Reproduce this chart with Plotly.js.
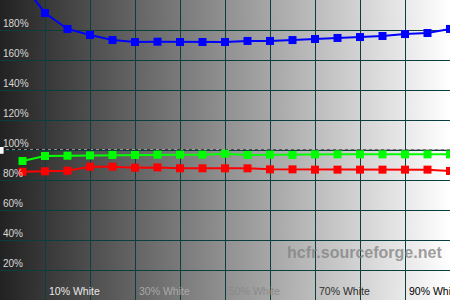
<!DOCTYPE html>
<html>
<head>
<meta charset="utf-8">
<script src="https://cdn.plot.ly/plotly-3.0.1.min.js"></script>
<style>html,body{margin:0;padding:0;background:#fff;}#chart{width:450px;height:300px;}</style>
</head>
<body>
<div id="chart"></div>
<script>
// Data (x in % white, y in %)
const levels = [5,10,15,20,25,30,35,40,45,50,55,60,65,70,75,80,85,90,95,100];
const blueVals  = [211,191.3,180.7,176.7,173.3,172,172.2,172,172,172,172.7,172.7,173.3,174,174.7,175.3,176,177.3,178,180.7];
const greenVals = [92.7,96,96.2,96.4,96.7,96.7,96.9,96.9,96.9,97.5,96.7,96.9,96.7,97.1,97.1,97.1,97.1,97.1,97.1,97.1];
const redVals   = [85.5,85.8,86.2,88.9,88.9,88.2,88.4,87.8,87.8,87.8,87.8,87.1,87.1,86.9,86.9,86.9,86.9,86.9,86.9,86];
const xTickVals = [10,20,30,40,50,60,70,80,90];
const xLabelVals = [10,30,50,70,90];
const xLabelText = ['10% White','30% White','50% White','70% White','90% White'];
const xLabelColors = ['#e8e8e8','#a8a8a8','#8a8a8a','#2e2e2e','#000000'];
const yTickVals = [20,40,60,80,100,120,140,160,180];
const yTickText = ['20%','40%','60%','80%','100%','120%','140%','160%','180%'];

// gradient background image
const cv = document.createElement('canvas');
cv.width = 450; cv.height = 10;
const ctx = cv.getContext('2d');
const g = ctx.createLinearGradient(0,0,450,0);
g.addColorStop(0,'#222222');
g.addColorStop(1,'#ffffff');
ctx.fillStyle = g; ctx.fillRect(0,0,450,10);
const bgUrl = cv.toDataURL('image/png');

function series(y, color){
  return {x: levels, y: y, type:'scatter', mode:'lines+markers',
    line:{color:color, width:2}, marker:{color:color, symbol:'square', size:8},
    hoverinfo:'skip', showlegend:false, cliponaxis:true};
}

const data = [series(redVals,'#ff0000'), series(greenVals,'#00ff00'), series(blueVals,'#0000ff')];

const annotations = xLabelVals.map((v,i)=>({
  text:xLabelText[i], xref:'x', yref:'paper', x:v+0.5, y:0.005, xanchor:'left', yanchor:'bottom',
  showarrow:false, font:{size:10.5, color:xLabelColors[i], family:'Liberation Sans, Arial, sans-serif'}
}));
annotations.push({text:'<b>hcfr.sourceforge.net</b>', xref:'paper', yref:'paper', x:285/450, y:(300-253)/300,
  xanchor:'left', yanchor:'middle',
  showarrow:false, font:{size:16, color:'rgba(128,128,128,0.75)', family:'Liberation Sans, Arial, sans-serif'}});

const layout = {
  width:450, height:300,
  margin:{l:0,r:0,t:0,b:0,pad:0},
  paper_bgcolor:'#ffffff', plot_bgcolor:'rgba(0,0,0,0)',
  showlegend:false,
  font:{family:'Liberation Sans, Arial, sans-serif'},
  xaxis:{range:[0,100], tickvals:xTickVals, showticklabels:false,
    ticks:'', showgrid:true, gridcolor:'#0b3f3f', gridwidth:1,
    zeroline:false, showline:false, fixedrange:true},
  yaxis:{range:[0,200], tickvals:yTickVals, ticktext:yTickText,
    ticklabelposition:'inside top', ticks:'', showgrid:true, gridcolor:'#0b3f3f', gridwidth:1,
    zeroline:false, showline:false, tickfont:{size:10, color:'#d8d8d8'}, fixedrange:true},
  images:[{source:bgUrl, xref:'paper', yref:'paper', x:0, y:1, sizex:1, sizey:1,
    sizing:'stretch', xanchor:'left', yanchor:'top', layer:'below'}],
  shapes:[
    {type:'line', xref:'paper', x0:0, x1:1, yref:'y', y0:100, y1:100, line:{color:'#000000', width:1}, layer:'between'},
    {type:'line', xref:'paper', x0:0, x1:1, yref:'y', y0:100, y1:100, line:{color:'#ffffff', width:1, dash:'3px,3px'}, layer:'between'},
    {type:'rect', xref:'paper', x0:0, x1:0.008, yref:'y', y0:97.5, y1:102, fillcolor:'#ffffff', line:{width:0}, layer:'above'}
  ],
  annotations:annotations,
  hovermode:false
};

Plotly.newPlot('chart', data, layout, {staticPlot:true, displayModeBar:false});
</script>
</body>
</html>
